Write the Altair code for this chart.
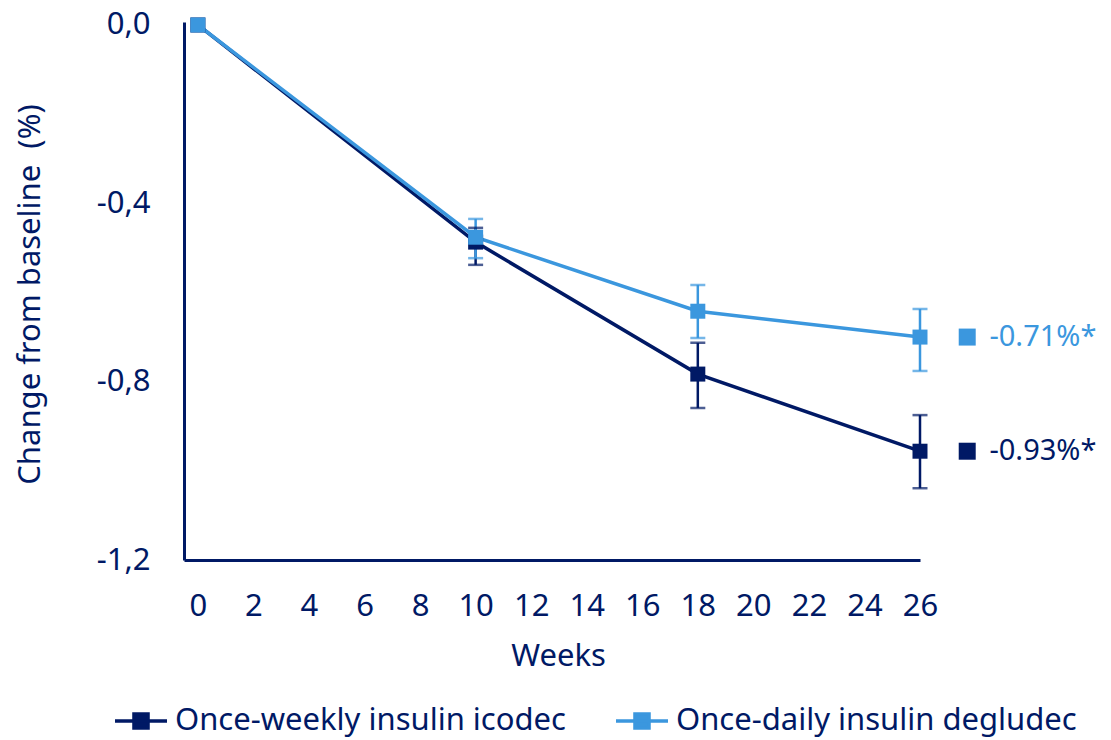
import altair as alt
import pandas as pd

weeks = [0, 10, 18, 26]
series_names = ["Once-weekly insulin icodec", "Once-daily insulin degludec"]
colors = ["#001965", "#3B97DE"]

icodec_mean = [0.0, -0.487, -0.783, -0.956]
icodec_low = [None, -0.538, -0.859, -1.039]
icodec_high = [None, -0.455, -0.713, -0.875]

degludec_mean = [0.0, -0.476, -0.642, -0.700]
degludec_low = [None, -0.523, -0.702, -0.776]
degludec_high = [None, -0.435, -0.583, -0.637]

annot_labels = ["-0.93%*", "-0.71%*"]
annot_x_marker = 27.7
annot_x_text = 28.5

x_ticks = list(range(0, 27, 2))
y_ticks = [0.0, -0.4, -0.8, -1.2]

FONT = "Noto Sans"
NAVY = "#001965"
FS = 31

rows = []
for name, m, lo, hi in [
    (series_names[0], icodec_mean, icodec_low, icodec_high),
    (series_names[1], degludec_mean, degludec_low, degludec_high),
]:
    for w, mv, l, h in zip(weeks, m, lo, hi):
        rows.append({"week": w, "mean": mv, "low": l, "high": h, "series": name})
df = pd.DataFrame(rows)
err = df.dropna(subset=["low"])

ann = pd.DataFrame({
    "series": series_names,
    "y": [icodec_mean[-1], degludec_mean[-1]],
    "label": annot_labels,
    "xm": [annot_x_marker] * 2,
    "xt": [annot_x_text] * 2,
})

color = alt.Color(
    "series:N",
    scale=alt.Scale(domain=series_names, range=colors),
    sort=series_names,
    legend=alt.Legend(
        title=None,
        orient="none",
        direction="horizontal",
        legendX=-71,
        legendY=671,
        symbolType="M-1,0L1,0M-0.27,-0.27L0.27,-0.27L0.27,0.27L-0.27,0.27Z",
        symbolSize=2704,
        symbolStrokeWidth=3.5,
        symbolOpacity=1,
        labelFont=FONT,
        labelFontSize=FS,
        labelColor=NAVY,
        labelOffset=6,
        columnPadding=43,
        labelLimit=700,
    ),
)

x = alt.X(
    "week:Q",
    scale=alt.Scale(domain=[-0.5, 26], nice=False, zero=False),
    axis=alt.Axis(
        values=x_ticks,
        title="Weeks",
        titleX=374,
        titleY=81,
        titleAlign="center",
        titleBaseline="top",
        labelPadding=31,
        labelFlush=False,
        labelOverlap=False,
        ticks=False,
        grid=False,
    ),
)
y = alt.Y(
    "mean:Q",
    scale=alt.Scale(domain=[-1.2, 0.0067], nice=False, zero=False),
    axis=alt.Axis(
        values=y_ticks,
        labelExpr="replace(replace(format(datum.value, '.1f'), '.', ','), '\u2212', '-')",
        title="Change from baseline\u00a0 (%)",
        titleX=-154,
        titleY=272,
        titleAngle=-90,
        titleAlign="center",
        titleBaseline="middle",
        labelPadding=34,
        labelFlush=False,
        ticks=False,
        grid=False,
    ),
)

base = alt.Chart(df)
rules = alt.Chart(err).mark_rule(strokeWidth=2.5).encode(
    x="week:Q", y="low:Q", y2="high:Q", color=color
)
caps_lo = alt.Chart(err).mark_tick(orient="horizontal", size=15, thickness=2.5).encode(
    x="week:Q", y="low:Q", color=color
)
caps_hi = alt.Chart(err).mark_tick(orient="horizontal", size=15, thickness=2.5).encode(
    x="week:Q", y="high:Q", color=color
)
lines = base.mark_line(strokeWidth=3.5).encode(x=x, y=y, color=color)
squares = base.mark_square(size=225, opacity=1).encode(x="week:Q", y="mean:Q", color=color)

ann_color = alt.Color("series:N", scale=alt.Scale(domain=series_names, range=colors), legend=None)
ann_sq = alt.Chart(ann).mark_square(size=289, opacity=1).encode(
    x="xm:Q", y="y:Q", color=ann_color
)
ann_txt = alt.Chart(ann).mark_text(
    align="left", baseline="middle", font=FONT, fontSize=29
).encode(
    x="xt:Q", y="y:Q", text="label:N", color=ann_color,
)

chart = (
    alt.layer(lines, rules, caps_lo, caps_hi, squares, ann_sq, ann_txt)
    .properties(
        width=736,
        height=538,
        autosize=alt.AutoSizeParams(type="none"),
        padding={"left": 176, "top": 14, "right": 183, "bottom": 178},
    )
    .configure_view(stroke=None)
    .configure_axis(
        domainColor=NAVY,
        domainWidth=3,
        labelColor=NAVY,
        labelFont=FONT,
        labelFontSize=FS,
        titleColor=NAVY,
        titleFont=FONT,
        titleFontSize=FS,
        titleFontWeight="normal",
    )
)

chart.save("out.html", embed_options={"renderer": "svg", "actions": False})
